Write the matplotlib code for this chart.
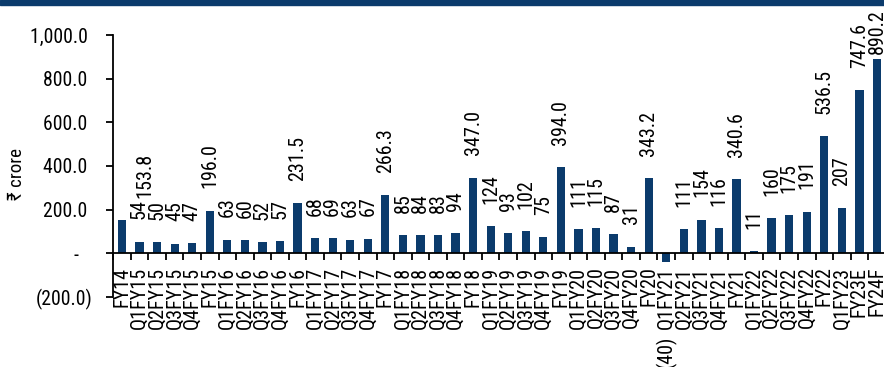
import matplotlib
matplotlib.use("Agg")
import matplotlib.pyplot as plt
from matplotlib import font_manager
from matplotlib.font_manager import FontProperties
from matplotlib.patches import Rectangle
from matplotlib.ticker import FixedLocator, FuncFormatter

# periods and PAT values (Rs crore)
periods = ["FY14",
           "Q1FY15", "Q2FY15", "Q3FY15", "Q4FY15", "FY15",
           "Q1FY16", "Q2FY16", "Q3FY16", "Q4FY16", "FY16",
           "Q1FY17", "Q2FY17", "Q3FY17", "Q4FY17", "FY17",
           "Q1FY18", "Q2FY18", "Q3FY18", "Q4FY18", "FY18",
           "Q1FY19", "Q2FY19", "Q3FY19", "Q4FY19", "FY19",
           "Q1FY20", "Q2FY20", "Q3FY20", "Q4FY20", "FY20",
           "Q1FY21", "Q2FY21", "Q3FY21", "Q4FY21", "FY21",
           "Q1FY22", "Q2FY22", "Q3FY22", "Q4FY22", "FY22",
           "Q1FY23", "FY23E", "FY24F"]
values = [153.8,
          54, 50, 45, 47, 196.0,
          63, 60, 52, 57, 231.5,
          68, 69, 63, 67, 266.3,
          85, 84, 83, 94, 347.0,
          124, 93, 102, 75, 394.0,
          111, 115, 87, 31, 343.2,
          -40, 111, 154, 116, 340.6,
          11, 160, 175, 191, 536.5,
          207, 747.6, 890.2]
labels = ["153.8",
          "54", "50", "45", "47", "196.0",
          "63", "60", "52", "57", "231.5",
          "68", "69", "63", "67", "266.3",
          "85", "84", "83", "94", "347.0",
          "124", "93", "102", "75", "394.0",
          "111", "115", "87", "31", "343.2",
          "(40)", "111", "154", "116", "340.6",
          "11", "160", "175", "191", "536.5",
          "207", "747.6", "890.2"]
yticks = [-200, 0, 200, 400, 600, 800, 1000]

NAVY = "#0b3b6c"

# source chart uses a narrow sans (Arial Narrow look); pick the first one we have
FONT = ["Liberation Sans", "DejaVu Sans"]
for name in ["Arial Narrow", "Liberation Sans Narrow", "Roboto Condensed"]:
    try:
        font_manager.findfont(name, fallback_to_default=False)
        FONT = [name, "DejaVu Sans"]
        break
    except ValueError:
        pass
plt.rcParams['font.family'] = FONT

fig = plt.figure(figsize=(8.84, 3.67), dpi=100)
renderer = fig.canvas.get_renderer()

def fit(s, px):
    # font size (pt) that makes string s about px pixels long
    w, _, _ = renderer.get_text_width_height_descent(s, FontProperties(family=FONT, size=10), ismath=False)
    return 10 * px / w

fs_x = fit("Q1FY15", 62)
fs_lab = fit("394.0", 45)
fs_y = fit("1,000.0", 57)

ax = fig.add_axes([113/884, 1 - 297/367, 1 - 113/884, (297 - 35)/367])

x = list(range(len(values)))
ax.bar(x, values, width=0.47, color=NAVY, zorder=2)

ax.set_xlim(-0.51, 43.4)
ax.set_ylim(-200, 1000)

# data labels, Excel style (a few nudged like in the source chart)
for i, lab in enumerate(labels):
    val = values[i]
    dx, dy = 0, 16
    if i == 0:
        dx = 16.5
    elif periods[i] == "FY24F":
        dy = 3.6
    if val < 0:
        ax.annotate(lab, (i, val), xytext=(0, -53), textcoords="offset points",
                    rotation=90, ha="center", va="top", fontsize=fs_lab,
                    annotation_clip=False)
    else:
        ax.annotate(lab, (i, val), xytext=(dx, dy), textcoords="offset points",
                    rotation=90, ha="center", va="bottom", fontsize=fs_lab,
                    annotation_clip=False)

# spines
for s in ["top", "right"]:
    ax.spines[s].set_visible(False)
ax.spines['bottom'].set_position(('data', 0))
ax.spines['bottom'].set_linewidth(1.3)
ax.spines['left'].set_linewidth(1.3)

ax.set_xticks(x)
ax.set_xticklabels(periods, rotation=90, va="top", fontsize=fs_x)
ax.tick_params(axis='x', which='major', length=0, pad=9.5)
ax.xaxis.set_minor_locator(FixedLocator([i - 0.5 for i in range(len(values) + 1)]))
ax.tick_params(axis='x', which='minor', length=5, width=1.3, direction='out')

def yfmt(v, pos):
    if v == 0:
        return "-   "
    if v < 0:
        return "({:,.1f})".format(-v)
    return "{:,.1f} ".format(v)

ax.set_yticks(yticks)
ax.yaxis.set_major_formatter(FuncFormatter(yfmt))
ax.tick_params(axis='y', length=5, width=1.3, pad=10, labelsize=fs_y)

fig.text(17/884, 1 - 174/367, "₹ crore", rotation=90, ha="center", va="center",
         fontsize=fit("₹ crore", 52))

# header strip at the very top
fig.patches.append(Rectangle((0, 1 - 5/367), 1, 5/367, transform=fig.transFigure,
                             color=NAVY, zorder=5))

fig.savefig("out.png", dpi=100)
